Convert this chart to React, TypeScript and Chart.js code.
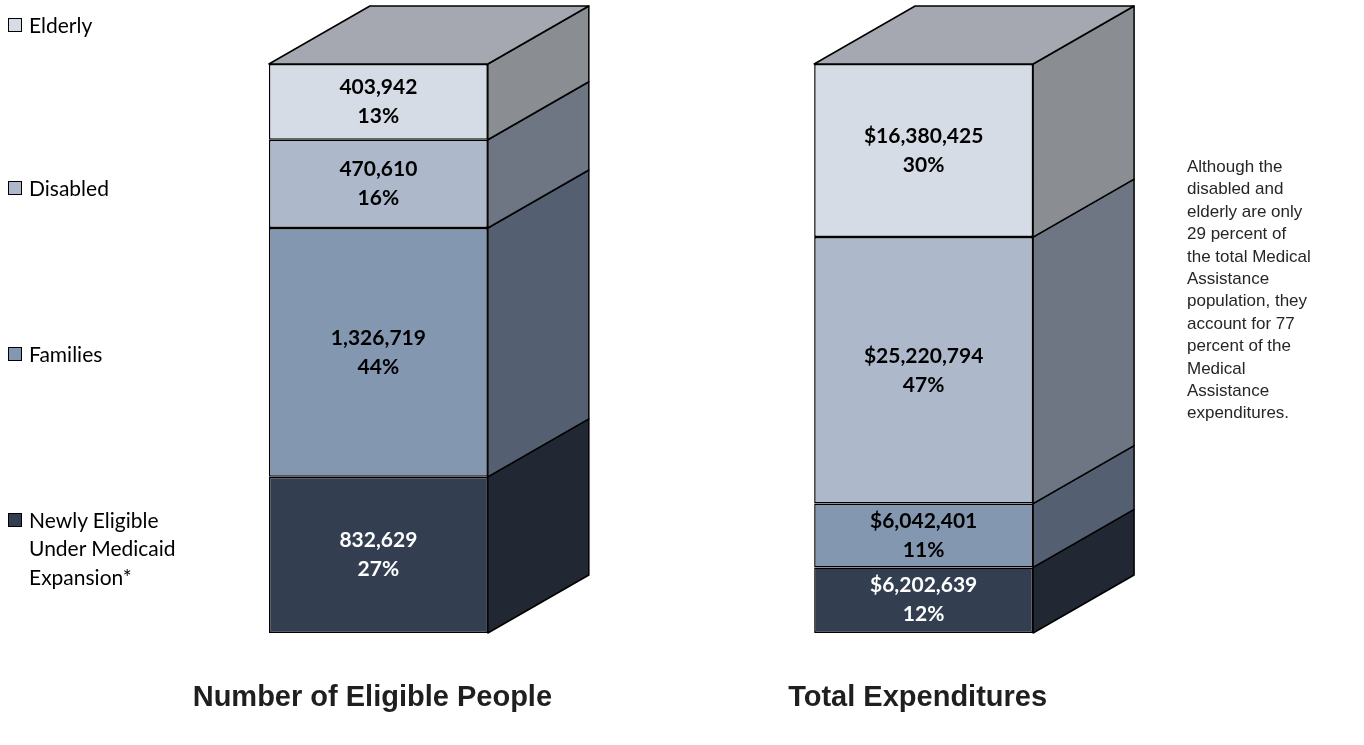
import React, { useEffect, useRef } from "react";
import { Chart, registerables } from "chart.js";

Chart.register(...registerables);

// ---------- data ----------
const categories = ["Number of Eligible People", "Total Expenditures"];
const seriesNames = ["Newly Eligible Under Medicaid Expansion*", "Families", "Disabled", "Elderly"];
const legendLines = [["Newly Eligible", "Under Medicaid", "Expansion*"], ["Families"], ["Disabled"], ["Elderly"]];
const newlyEligible = [832629, 6202639];
const families = [1326719, 6042401];
const disabled = [470610, 25220794];
const elderly = [403942, 16380425];
const valuePrefixes = ["", "$"];
const annotationLines = [
  "Although the",
  "disabled and",
  "elderly are only",
  "29 percent of",
  "the total Medical",
  "Assistance",
  "population, they",
  "account for 77",
  "percent of the",
  "Medical",
  "Assistance",
  "expenditures.",
];

// ---------- style ----------
const frontColors = ["#333f50", "#8497b0", "#adb9ca", "#d6dce5"];
const sideColors = ["#222833", "#546071", "#6e7583", "#8a8d92"];
const topColor = "#a5a8b0";
const labelColors = ["#ffffff", "#000000", "#000000", "#000000"];
const DX = 101;
const DY = 58;
const legendCenters = [520, 354, 188, 25];

const seriesValues = [newlyEligible, families, disabled, elderly];
const totals = categories.map((_, i) => seriesValues.reduce((s, arr) => s + arr[i], 0));

const fmt = (v: number) => v.toLocaleString("en-US");

const depthPlugin = {
  id: "depth3d",
  afterDatasetsDraw(chart: any) {
    const ctx = chart.ctx;
    const n = chart.data.datasets.length;
    ctx.save();
    ctx.lineWidth = 1.5;
    ctx.strokeStyle = "#000";
    ctx.lineJoin = "round";
    for (let d = 0; d < n; d++) {
      const meta = chart.getDatasetMeta(d);
      meta.data.forEach((el: any) => {
        const { x, y, base, width } = el.getProps(["x", "y", "base", "width"], true);
        const l = x - width / 2;
        const r = x + width / 2;
        const t = Math.min(y, base);
        const b = Math.max(y, base);
        ctx.beginPath();
        ctx.moveTo(r, b);
        ctx.lineTo(r + DX, b - DY);
        ctx.lineTo(r + DX, t - DY);
        ctx.lineTo(r, t);
        ctx.closePath();
        ctx.fillStyle = sideColors[d];
        ctx.fill();
        ctx.stroke();
        if (d === n - 1) {
          ctx.beginPath();
          ctx.moveTo(l, t);
          ctx.lineTo(l + DX, t - DY);
          ctx.lineTo(r + DX, t - DY);
          ctx.lineTo(r, t);
          ctx.closePath();
          ctx.fillStyle = topColor;
          ctx.fill();
          ctx.stroke();
        }
      });
    }
    // data labels
    ctx.textAlign = "center";
    ctx.textBaseline = "middle";
    ctx.font = "bold 21px Lato, 'Noto Sans', sans-serif";
    for (let d = 0; d < n; d++) {
      const meta = chart.getDatasetMeta(d);
      meta.data.forEach((el: any, i: number) => {
        const { x, y, base } = el.getProps(["x", "y", "base"], true);
        const cy = (y + base) / 2;
        const raw = seriesValues[d][i];
        const pct = Math.round((raw / totals[i]) * 100);
        ctx.fillStyle = labelColors[d];
        ctx.fillText(valuePrefixes[i] + fmt(raw), x, cy - 14.5);
        ctx.fillText(pct + "%", x, cy + 14.5);
      });
    }
    // category labels
    const xs = chart.scales.x;
    ctx.font = "bold 29px 'Liberation Sans', Arial, sans-serif";
    ctx.fillStyle = "#1f1f1f";
    categories.forEach((c, i) => {
      ctx.fillText(c, xs.getPixelForValue(i) - 6, 698);
    });
    ctx.restore();
  },
};

export default function App() {
  const ref = useRef<HTMLCanvasElement>(null);
  useEffect(() => {
    if (!ref.current) return;
    const chart = new Chart(ref.current, {
      type: "bar",
      data: {
        labels: categories,
        datasets: seriesNames.map((name, d) => ({
          label: name,
          data: seriesValues[d].map((v, i) => (v / totals[i]) * 100),
          backgroundColor: frontColors[d],
          borderColor: "#000",
          borderWidth: 1.5,
          borderSkipped: false,
          barPercentage: 0.4015,
          categoryPercentage: 1,
        })),
      },
      options: {
        responsive: false,
        animation: false,
        layout: { padding: { left: 105.75, right: 167.75, top: 64, bottom: 112 } },
        plugins: { legend: { display: false }, tooltip: { enabled: false } },
        scales: {
          x: { stacked: true, display: false },
          y: { stacked: true, display: false, min: 0, max: 100 },
        },
      },
      plugins: [depthPlugin],
    });
    return () => chart.destroy();
  }, []);

  return (
    <div style={{ position: "absolute", left: 0, top: 0, width: 1364, height: 745, background: "#fff" }}>
      <canvas ref={ref} width={1364} height={745} style={{ position: "absolute", left: 0, top: 0 }} />
      {seriesNames.map((name, d) => (
        <div key={name} style={{ position: "absolute", left: 8, top: legendCenters[d] - 7 }}>
          <div
            style={{
              position: "absolute",
              left: 0,
              top: 0,
              width: 14,
              height: 14,
              boxSizing: "border-box",
              border: "1.5px solid #000",
              background: frontColors[d],
            }}
          />
          <div
            style={{
              position: "absolute",
              left: 21,
              top: 7 - 14.25,
              whiteSpace: "nowrap",
              font: "21px/28.5px Lato, 'Noto Sans', sans-serif",
              color: "#000",
            }}
          >
            {legendLines[d].map((ln) => (
              <div key={ln}>{ln}</div>
            ))}
          </div>
        </div>
      ))}
      <div
        style={{
          position: "absolute",
          left: 1187,
          top: 156,
          font: "17px/22.4px 'Liberation Sans', Arial, sans-serif",
          color: "#262626",
          whiteSpace: "nowrap",
        }}
      >
        {annotationLines.map((ln, i) => (
          <div key={i}>{ln}</div>
        ))}
      </div>
    </div>
  );
}
